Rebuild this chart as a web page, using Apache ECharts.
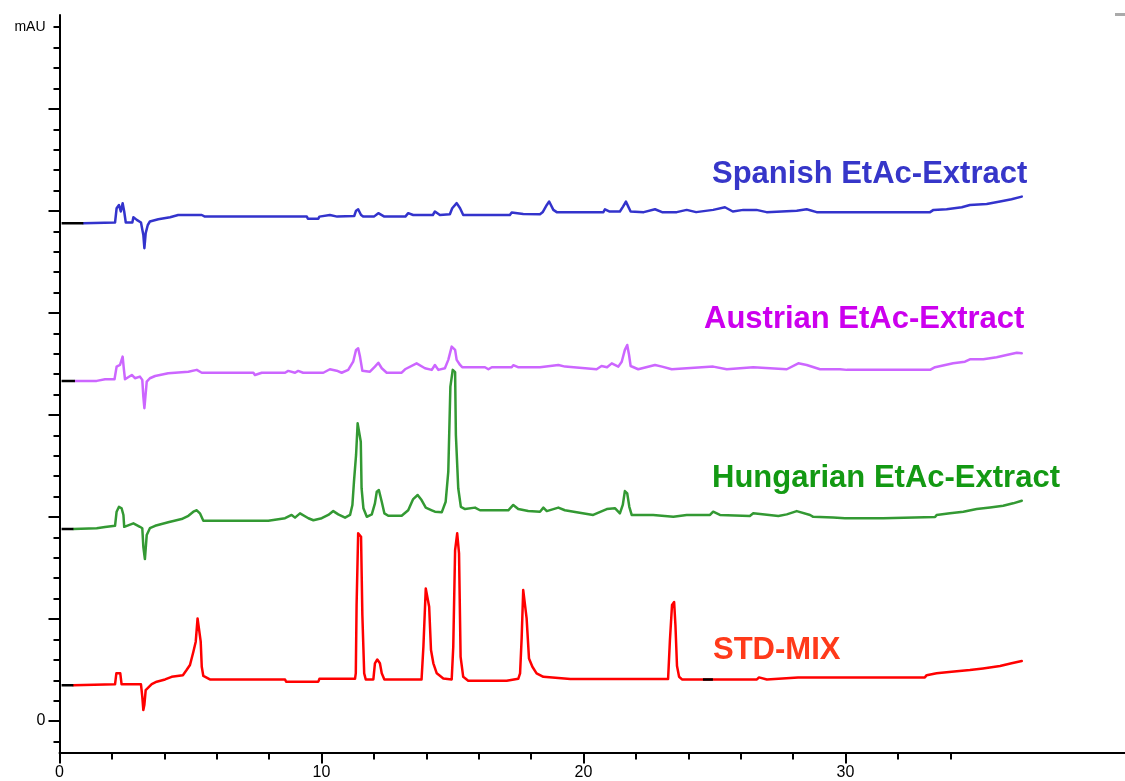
<!DOCTYPE html>
<html><head><meta charset="utf-8">
<script src="https://cdn.jsdelivr.net/npm/echarts@6/dist/echarts.min.js"></script>
<style>html,body{margin:0;padding:0;background:#fff}#c{width:1125px;height:781px}</style>
</head><body><div id="c"></div>
<script>
// Axis tick definitions (time in min, absorbance in mAU-scale units)
const xMajorTicks = [0, 10, 20, 30];
const xMinorTicks = [2, 4, 6, 8, 12, 14, 16, 18, 22, 24, 26, 28, 32, 34];
const yMajorTicks = [0, 50, 100, 150, 200, 250, 300];
const yMinorTicks = [-10, 10, 20, 30, 40, 60, 70, 80, 90, 110, 120, 130, 140, 160, 170, 180, 190, 210, 220, 230, 240, 260, 270, 280, 290, 310, 320, 330, 340];
const yLabelValues = [0, 340];

// Trace names
const traceNames = ['Spanish EtAc-Extract', 'Austrian EtAc-Extract', 'Hungarian EtAc-Extract', 'STD-MIX'];

// Spanish EtAc-Extract (first two points = black lead-in)
const spanish = [[0.08,244.0],[0.91,244.0],[0.93,244.3],[2.12,244.3],[2.18,251.3],[2.27,252.9],[2.34,249.7],[2.41,253.8],[2.47,249.7],[2.53,244.3],[2.78,244.3],[2.82,246.9],[2.95,245.6],[3.11,244.3],[3.16,243.5],[3.20,238.2],[3.24,231.7],[3.29,239.1],[3.37,243.1],[3.45,244.8],[3.77,245.9],[4.22,246.9],[4.53,248.0],[5.43,248.0],[5.55,247.2],[9.44,247.2],[9.48,246.2],[9.88,246.2],[9.92,247.2],[10.32,248.0],[10.6,247.2],[11.25,247.5],[11.32,250.1],[11.40,250.8],[11.51,248.0],[11.6,247.2],[12.0,247.2],[12.17,248.9],[12.4,247.2],[13.2,247.2],[13.31,248.9],[13.5,248.0],[14.25,248.0],[14.33,249.7],[14.52,248.0],[14.90,248.4],[14.99,251.3],[15.16,253.8],[15.29,251.3],[15.41,248.0],[17.19,248.0],[17.26,249.2],[17.70,248.5],[18.34,248.4],[18.45,249.5],[18.60,252.9],[18.69,254.6],[18.85,250.5],[18.98,249.4],[20.76,249.4],[20.82,250.8],[21.0,249.7],[21.39,249.7],[21.51,252.1],[21.62,254.6],[21.71,252.1],[21.80,249.7],[22.3,249.4],[22.73,250.8],[23.0,249.4],[23.56,249.4],[23.94,250.5],[24.3,249.4],[24.95,250.5],[25.40,251.8],[25.7,249.7],[26.10,250.5],[26.6,250.5],[26.99,249.4],[28.14,250.1],[28.52,250.8],[28.90,249.4],[31.82,249.4],[31.86,250.1],[31.9,249.4],[33.23,249.4],[33.36,250.5],[33.86,250.8],[34.44,251.8],[34.75,252.9],[35.39,253.4],[35.90,254.6],[36.34,255.7],[36.73,257.0]];

// Austrian EtAc-Extract
const austrian = [[0.08,166.7],[0.59,166.7],[0.61,166.7],[1.42,166.7],[1.48,167.5],[1.74,167.5],[1.80,166.7],[2.1,167.5],[2.18,173.7],[2.31,174.5],[2.41,178.6],[2.46,172.1],[2.50,167.5],[2.76,169.6],[2.88,168.0],[3.07,168.8],[3.16,167.2],[3.20,159.0],[3.24,153.3],[3.33,166.3],[3.45,168.0],[3.65,169.1],[4.15,170.4],[4.92,171.2],[5.24,172.1],[5.43,170.7],[7.40,170.7],[7.46,169.6],[7.72,170.7],[8.61,170.7],[8.73,171.6],[8.99,170.7],[9.11,171.6],[9.3,170.7],[10.07,170.7],[10.32,172.4],[10.58,171.7],[10.77,170.7],[11.02,172.1],[11.21,176.1],[11.32,181.9],[11.40,182.7],[11.47,178.6],[11.56,171.7],[11.85,171.2],[12.04,173.7],[12.17,175.6],[12.30,172.9],[12.49,170.7],[13.06,170.7],[13.19,172.4],[13.63,175.3],[13.95,172.9],[14.21,172.1],[14.33,174.5],[14.46,172.1],[14.71,172.9],[14.84,177.0],[14.97,183.5],[15.03,184.3],[15.10,181.9],[15.16,177.0],[15.29,174.5],[15.37,173.4],[16.24,173.4],[16.37,172.4],[16.5,173.4],[17.26,173.4],[17.32,174.4],[17.5,173.4],[18.34,173.4],[19.04,174.5],[19.3,173.7],[20.50,172.4],[20.69,174.0],[20.9,173.4],[21.08,175.3],[21.33,173.7],[21.46,176.1],[21.58,181.9],[21.67,184.3],[21.74,179.4],[21.80,174.0],[22.09,172.4],[22.73,174.5],[23.0,173.7],[23.37,172.4],[24.95,173.7],[25.47,172.4],[26.48,173.4],[27.76,172.4],[28.20,175.3],[28.52,174.5],[29.03,172.4],[29.79,172.4],[30.05,172.1],[33.23,172.1],[33.42,173.4],[34.11,175.3],[34.56,176.1],[34.75,177.3],[35.26,177.3],[35.77,178.3],[36.15,179.4],[36.54,180.5],[36.73,180.2]];

// Hungarian EtAc-Extract
const hungarian = [[0.08,94.1],[0.53,94.1],[0.55,94.5],[1.42,94.5],[1.48,95.1],[1.74,95.1],[1.76,95.7],[2.12,95.7],[2.18,102.6],[2.27,105.0],[2.37,104.3],[2.44,101.0],[2.47,95.2],[2.82,96.9],[3.07,95.2],[3.16,94.5],[3.20,85.4],[3.26,79.4],[3.33,91.2],[3.45,94.5],[3.65,95.7],[4.15,97.4],[4.66,99.0],[4.92,100.6],[5.11,102.6],[5.24,103.3],[5.36,101.8],[5.49,98.2],[7.97,98.2],[8.61,99.4],[8.86,101.0],[8.99,99.7],[9.18,101.8],[9.50,99.4],[9.69,98.4],[10.01,99.4],[10.26,101.0],[10.45,102.9],[10.64,101.3],[10.90,99.7],[11.09,101.0],[11.18,105.9],[11.24,117.3],[11.32,130.4],[11.38,145.9],[11.44,146.7],[11.50,136.9],[11.53,114.1],[11.60,104.3],[11.73,100.1],[11.92,101.3],[12.04,106.7],[12.11,112.4],[12.19,113.2],[12.30,107.5],[12.40,101.8],[12.55,100.6],[13.06,100.6],[13.31,103.3],[13.50,108.8],[13.67,110.8],[13.82,108.3],[13.98,104.6],[14.21,103.3],[14.33,102.6],[14.59,102.3],[14.74,107.5],[14.84,122.2],[14.92,163.9],[15.01,172.1],[15.10,171.0],[15.13,140.2],[15.22,114.1],[15.32,105.0],[15.48,103.9],[15.86,104.6],[16.05,103.3],[17.13,103.3],[17.32,105.9],[17.51,103.9],[17.89,102.9],[18.34,102.6],[18.47,104.6],[18.60,102.9],[19.04,104.6],[19.29,103.3],[19.74,102.3],[20.37,101.0],[20.89,103.9],[21.20,104.3],[21.39,101.8],[21.50,105.9],[21.58,112.7],[21.67,111.6],[21.75,105.0],[21.84,101.0],[22.66,101.0],[22.73,101.8],[23.43,100.1],[23.94,101.0],[24.83,101.0],[24.95,102.6],[25.21,101.0],[26.35,100.5],[26.48,101.8],[27.44,100.5],[27.76,101.3],[28.14,102.9],[28.65,101.0],[28.77,100.1],[29.53,99.7],[29.98,99.4],[31.44,99.4],[31.5,100.0],[33.42,100.0],[33.48,101.0],[33.99,101.8],[34.50,102.6],[35.01,103.9],[35.52,104.7],[36.02,105.5],[36.40,106.7],[36.73,108.0]];

// STD-MIX
const stdMix = [[0.08,17.6],[0.53,17.6],[0.55,18.0],[2.12,18.0],[2.17,23.4],[2.23,23.6],[2.32,23.4],[2.37,18.0],[3.11,18.0],[3.16,12.0],[3.20,5.4],[3.24,8.0],[3.29,15.2],[3.52,18.1],[3.71,19.3],[4.03,20.4],[4.28,21.7],[4.71,22.5],[4.85,25.0],[4.98,27.5],[5.11,34.0],[5.20,38.9],[5.27,50.3],[5.34,51.0],[5.39,38.9],[5.43,26.6],[5.49,22.1],[5.74,20.4],[8.61,20.4],[8.65,19.3],[9.88,19.3],[9.92,20.7],[11.28,20.7],[11.31,23.5],[11.34,56.9],[11.40,92.0],[11.51,90.3],[11.56,52.0],[11.63,23.4],[11.69,20.4],[11.98,20.4],[12.04,28.3],[12.13,30.2],[12.23,28.3],[12.30,23.4],[12.40,20.4],[13.82,20.4],[13.89,36.4],[13.98,65.0],[14.04,65.8],[14.11,56.0],[14.18,34.8],[14.27,28.3],[14.40,23.4],[14.65,20.9],[14.97,20.4],[15.03,36.4],[15.10,83.8],[15.18,92.0],[15.25,82.2],[15.31,31.5],[15.41,21.7],[15.60,19.8],[16.50,19.8],[16.56,20.7],[16.75,19.8],[17.07,19.8],[17.10,20.7],[17.51,20.7],[17.58,23.4],[17.64,40.5],[17.70,64.2],[17.77,64.2],[17.83,50.3],[17.92,30.7],[18.05,26.6],[18.21,23.4],[18.47,21.7],[19.5,20.6],[23.23,20.6],[23.30,39.7],[23.38,56.9],[23.46,58.3],[23.51,47.1],[23.57,27.0],[23.65,21.7],[23.76,20.4],[26.62,20.4],[26.70,21.4],[27.00,20.4],[28.19,21.4],[33.03,21.4],[33.10,22.5],[33.48,23.4],[34.05,24.2],[34.75,25.0],[35.25,25.8],[35.90,27.0],[36.34,28.3],[36.73,29.4]];
const stdMixMark = [[24.56,20.4],[24.94,20.4]];

const traceColors = ['#3333cc', '#cc66ff', '#339933', '#ff0000'];
const labelColors = ['#3636c9', '#cc00ee', '#139913', '#ff3a1a'];

const chart = echarts.init(document.getElementById('c'), null, {renderer: 'canvas'});
const traces = [spanish, austrian, hungarian, stdMix];

const series = [];
traces.forEach((d, i) => {
  series.push({
    name: traceNames[i], type: 'line', data: d.slice(1), showSymbol: false,
    lineStyle: {color: traceColors[i], width: 2.5, join: 'round', cap: 'round'}, itemStyle: {color: traceColors[i]},
    animation: false, z: 3
  });
  series.push({
    name: traceNames[i] + ' start', type: 'line', data: d.slice(0, 2), showSymbol: false,
    lineStyle: {color: '#000', width: 2.5}, animation: false, z: 4
  });
});
series.push({type: 'line', data: stdMixMark, showSymbol: false, lineStyle: {color: '#000', width: 2.5}, animation: false, z: 4});

const axisCommonX = {type: 'value', position: 'bottom', min: 0, max: 40.67, splitLine: {show: false}};
const axisCommonY = {type: 'value', position: 'left', min: -15.4, max: 346, splitLine: {show: false}};

const labelFont = 'Liberation Sans, Arial, sans-serif';
const labelStyle = (c) => ({
  fill: c, font: 'bold 31px ' + labelFont,
  shadowColor: 'rgba(0,0,0,0.4)', shadowOffsetX: 3, shadowOffsetY: 3, shadowBlur: 2
});
const labelPos = [[712, 173], [704, 318], [712, 477], [713, 649]];

chart.setOption({
  backgroundColor: '#fff',
  animation: false,
  grid: {left: 59.5, right: 0, top: 15, bottom: 28.5, containLabel: false},
  xAxis: [
    Object.assign({}, axisCommonX, {
      axisLine: {show: true, onZero: false, lineStyle: {color: '#000', width: 2}},
      axisTick: {show: true, customValues: xMajorTicks, length: 11, lineStyle: {color: '#000', width: 2}},
      axisLabel: {show: true, customValues: xMajorTicks, margin: 12, color: '#000', fontSize: 16, fontFamily: labelFont}
    }),
    Object.assign({}, axisCommonX, {
      axisLine: {show: false, onZero: false},
      axisTick: {show: true, customValues: xMinorTicks, length: 7, lineStyle: {color: '#000', width: 2}},
      axisLabel: {show: false}
    })
  ],
  yAxis: [
    Object.assign({}, axisCommonY, {
      axisLine: {show: true, onZero: false, lineStyle: {color: '#000', width: 2}},
      axisTick: {show: true, customValues: yMajorTicks, length: 11, lineStyle: {color: '#000', width: 2}},
      axisLabel: {show: true, customValues: yLabelValues, margin: 14, color: '#000', fontSize: 16, fontFamily: labelFont,
        formatter: v => v === 340 ? '{m|mAU}' : String(v),
        rich: {m: {fontSize: 14, fontFamily: labelFont, color: '#000'}}}
    }),
    Object.assign({}, axisCommonY, {
      axisLine: {show: false, onZero: false},
      axisTick: {show: true, customValues: yMinorTicks, length: 6, lineStyle: {color: '#000', width: 2}},
      axisLabel: {show: false}
    })
  ],
  series: series,
  graphic: traceNames.map((t, i) => ({
    type: 'text', left: labelPos[i][0], top: labelPos[i][1] - 14, z: 10,
    style: Object.assign({text: t}, labelStyle(labelColors[i]))
  })).concat([{type: 'rect', shape: {x: 1115, y: 13, width: 10, height: 3}, style: {fill: '#aaa'}}])
});
</script></body></html>
